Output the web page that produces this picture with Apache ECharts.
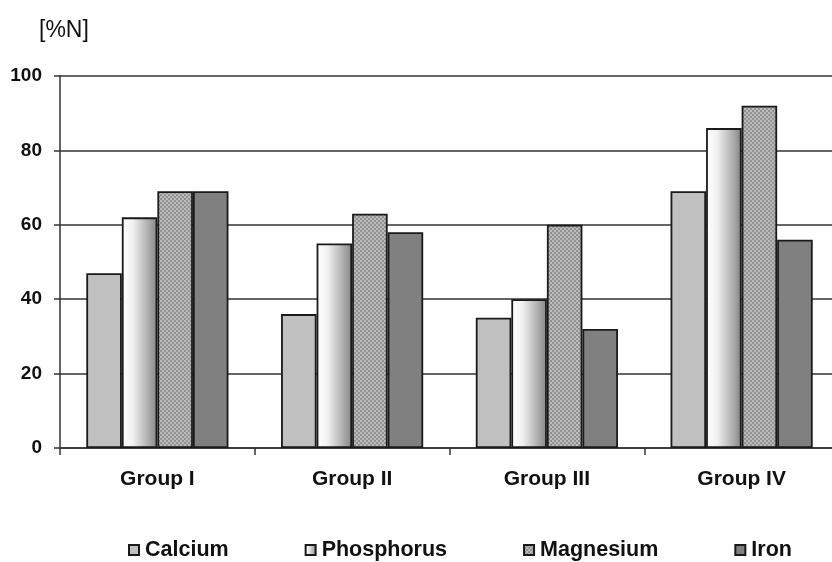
<!DOCTYPE html>
<html>
<head>
<meta charset="utf-8">
<script src="https://cdn.jsdelivr.net/npm/echarts@6/dist/echarts.min.js"></script>
<style>
  html, body { margin: 0; padding: 0; background: #fff; }
  #chart { width: 832px; height: 562px; }
</style>
</head>
<body>
<div id="chart"></div>
<script>
// Mineral content per study group, in percent of the normal value
const groups = ['Group I', 'Group II', 'Group III', 'Group IV'];
const minerals = ['Calcium', 'Phosphorus', 'Magnesium', 'Iron'];
const calcium = [47, 36, 35, 69];
const phosphorus = [62, 55, 40, 86];
const magnesium = [69, 63, 60, 92];
const iron = [69, 58, 32, 56];
const yTicks = [0, 20, 40, 60, 80, 100];

// Fine checker texture used for the magnesium bars
function checkerPattern() {
  const c = document.createElement('canvas');
  c.width = 4; c.height = 4;
  const g = c.getContext('2d');
  g.fillStyle = '#919191';
  g.fillRect(0, 0, 4, 4);
  g.fillStyle = '#bcbcbc';
  g.fillRect(0, 0, 2, 2);
  g.fillRect(2, 2, 2, 2);
  return c;
}

const fills = {
  Calcium: '#c0c0c0',
  Phosphorus: {
    type: 'linear', x: 0, y: 0, x2: 1, y2: 0,
    colorStops: [
      { offset: 0, color: '#ffffff' },
      { offset: 0.3, color: '#f2f2f2' },
      { offset: 0.65, color: '#bdbdbd' },
      { offset: 1, color: '#858585' }
    ]
  },
  Magnesium: { image: checkerPattern(), repeat: 'repeat' },
  Iron: '#808080'
};

const seriesValues = [calcium, phosphorus, magnesium, iron];

const chart = echarts.init(document.getElementById('chart'), null, { renderer: 'canvas' });

chart.setOption({
  animation: false,
  backgroundColor: '#ffffff',
  title: {
    text: '[%N]',
    left: 34,
    top: 14,
    textStyle: { fontFamily: 'Liberation Sans, Arial, sans-serif', fontSize: 23, fontWeight: 'normal', color: '#111' }
  },
  legend: {
    left: 128,
    top: 539,
    icon: 'rect',
    itemWidth: 10,
    itemHeight: 10,
    itemGap: 76,
    padding: 0,
    textStyle: {
      fontFamily: 'Liberation Sans, Arial, sans-serif',
      fontSize: 21.5,
      fontWeight: 'bold',
      color: '#111',
      padding: [0, 0, 0, 1]
    },
    data: minerals
  },
  // plot area runs slightly past the right edge of the canvas
  grid: { left: 60, top: 76, width: 779, height: 372, containLabel: false, outerBoundsMode: 'none' },
  xAxis: {
    type: 'category',
    data: groups,
    axisLine: { lineStyle: { color: '#333', width: 1.5 } },
    axisTick: { show: true, alignWithLabel: false, length: 7, lineStyle: { color: '#333', width: 1.5 } },
    axisLabel: {
      margin: 21,
      fontFamily: 'Liberation Sans, Arial, sans-serif',
      fontSize: 21,
      fontWeight: 'bold',
      color: '#111'
    }
  },
  yAxis: {
    type: 'value',
    min: 0,
    max: 100,
    interval: 20,
    axisLine: { show: true, lineStyle: { color: '#333', width: 1.5 } },
    axisTick: { show: true, length: 6, lineStyle: { color: '#333', width: 1.5 } },
    splitLine: { show: true, lineStyle: { color: '#333', width: 1.5 } },
    axisLabel: {
      margin: 18,
      fontFamily: 'Liberation Sans, Arial, sans-serif',
      fontSize: 19,
      fontWeight: 'bold',
      color: '#111',
      formatter: v => (yTicks.indexOf(v) >= 0 ? String(v) : '')
    }
  },
  series: minerals.map((name, i) => ({
    name,
    type: 'bar',
    data: seriesValues[i],
    barGap: '0%',
    barCategoryGap: '27%',
    itemStyle: { color: fills[name], borderColor: '#1a1a1a', borderWidth: 1.8 }
  }))
});
</script>
</body>
</html>
